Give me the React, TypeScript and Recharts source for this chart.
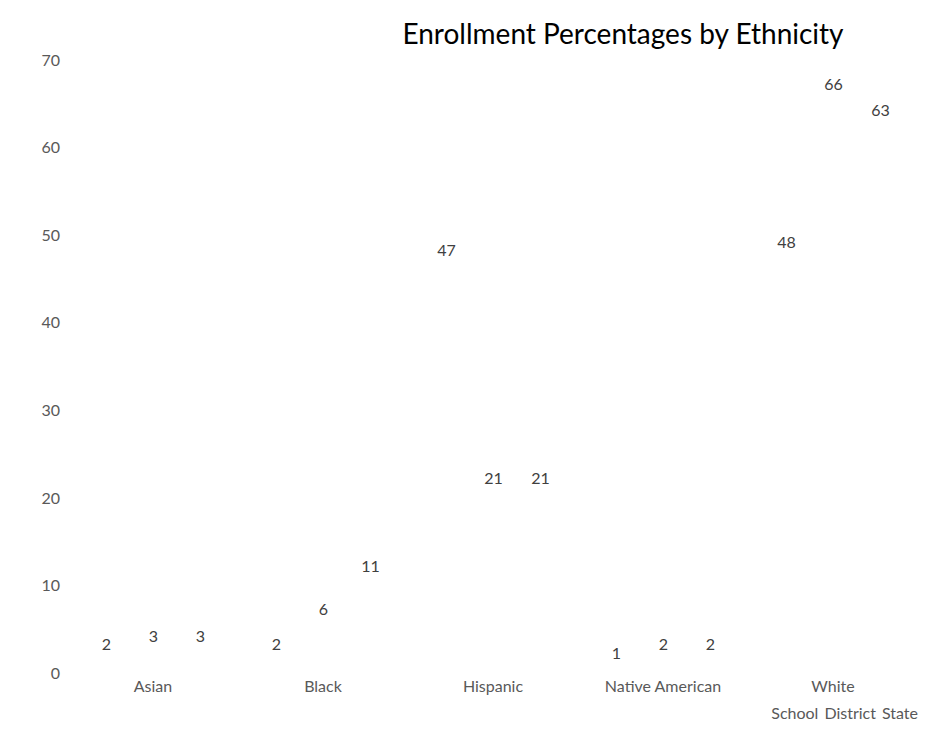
import { FC } from 'react';

import {
  BarChart,
  Bar,
  XAxis,
  YAxis,
  LabelList,
  Legend,
} from 'recharts';

const categories = ['Asian', 'Black', 'Hispanic', 'Native American', 'White'];
const seriesNames = ['School', 'District', 'State'];
const school = [2, 2, 47, 1, 48];
const district = [3, 6, 21, 2, 66];
const state = [3, 11, 21, 2, 63];
const yTicks = [0, 10, 20, 30, 40, 50, 60, 70];

const data = categories.map((name, index) => {
  return {
    name,
    School: school[index],
    District: district[index],
    State: state[index],
  };
});

const tickStyle = { fill: '#595959', fontSize: 16 };

// legend is plain text only, no swatches, kept in series order
const LegendText = (props: any) => {
  const payload = [...(props.payload || [])].sort(
    (a: any, b: any) =>
      seriesNames.indexOf(a.value) - seriesNames.indexOf(b.value),
  );
  return (
    <div style={{ textAlign: 'right', color: '#595959', fontSize: 16 }}>
      {payload.map((item: any) => (
        <span key={item.value} style={{ marginLeft: 6 }}>
          {item.value}
        </span>
      ))}
    </div>
  );
};

const App: FC = () => {
  return (
    <div style={{ width: 930, fontFamily: "Lato, 'Open Sans', sans-serif" }}>
      <div
        style={{
          paddingLeft: 300,
          textAlign: 'center',
          fontSize: 28,
          color: '#000',
          lineHeight: '34px',
          marginTop: 8,
        }}>
        Enrollment Percentages by Ethnicity
      </div>
      <BarChart
        width={930}
        height={672}
        data={data}
        margin={{
          top: 10,
          right: 20,
          left: 0,
          bottom: 0,
        }}>
        <XAxis
          dataKey='name'
          axisLine={false}
          tickLine={false}
          tick={tickStyle}
        />
        <YAxis
          domain={[0, 70]}
          ticks={yTicks}
          axisLine={false}
          tickLine={false}
          tick={tickStyle}
        />
        <Legend content={<LegendText />} verticalAlign='bottom' />
        {seriesNames.map((key) => (
          <Bar
            key={key}
            dataKey={key}
            fill='transparent'
            isAnimationActive={false}>
            <LabelList
              dataKey={key}
              position='top'
              fill='#404040'
              fontSize={16}
            />
          </Bar>
        ))}
      </BarChart>
    </div>
  );
};

export default App;
